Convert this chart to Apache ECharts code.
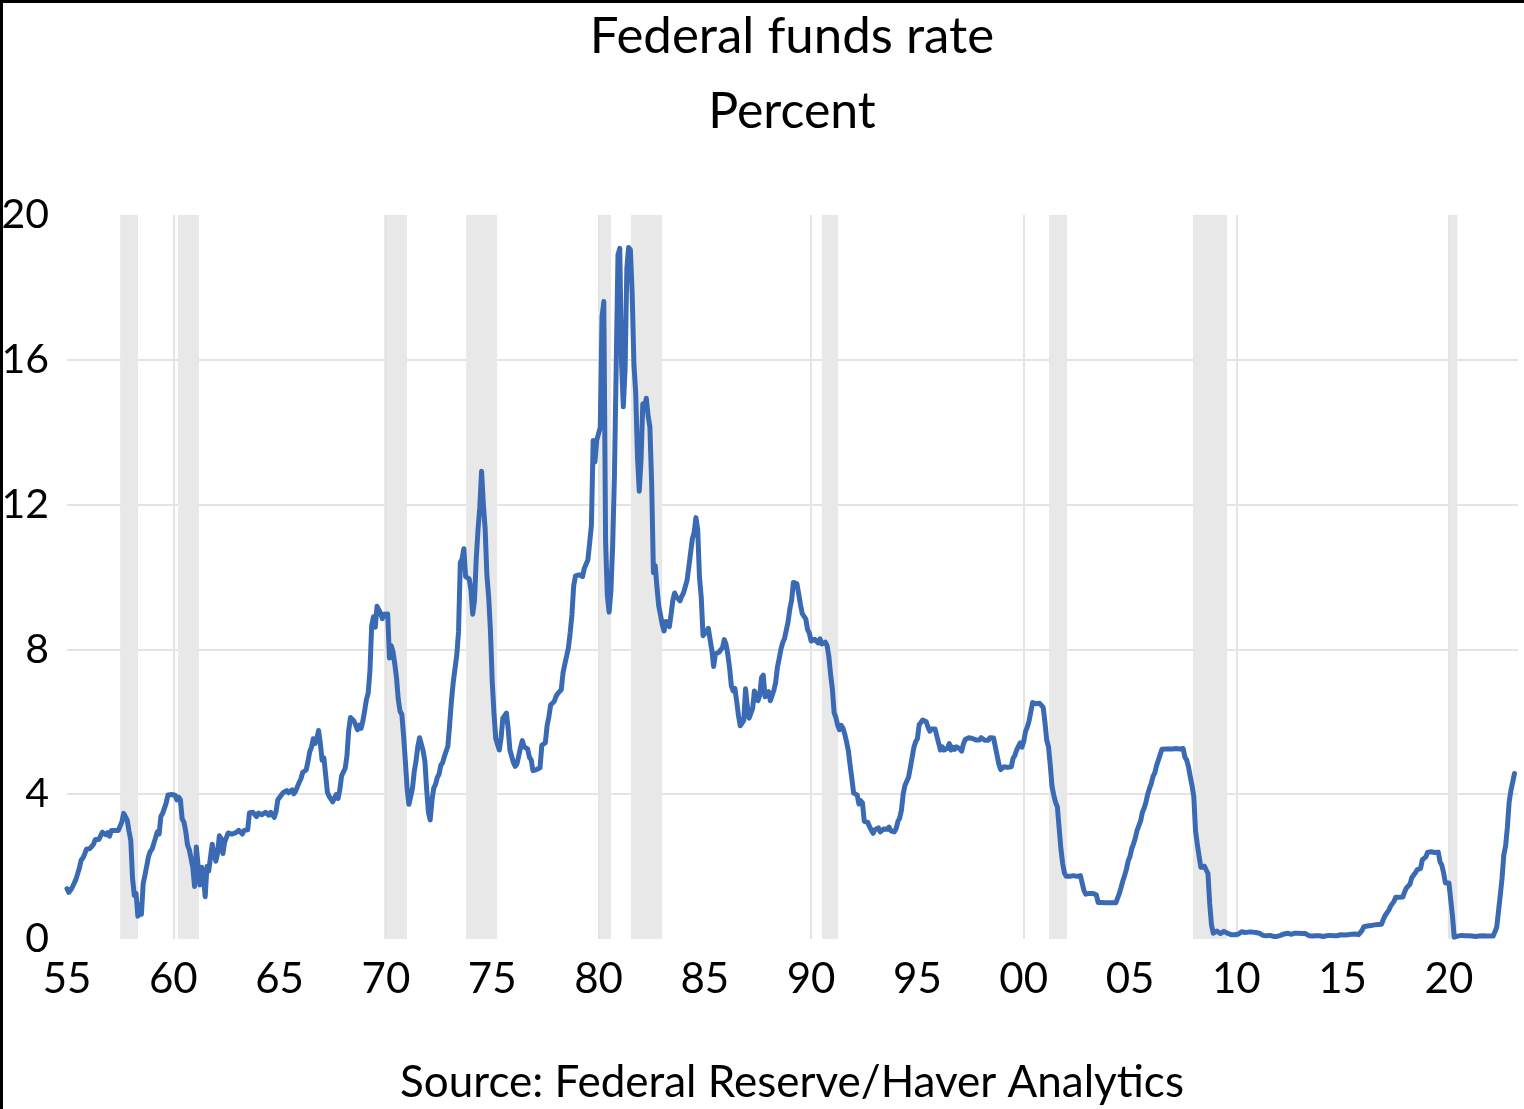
<!DOCTYPE html>
<html>
<head>
<meta charset="utf-8">
<script src="https://cdn.jsdelivr.net/npm/echarts@6/dist/echarts.min.js"></script>
<style>
html,body{margin:0;padding:0;background:#fff;}
#chart{width:1524px;height:1109px;}
</style>
</head>
<body>
<div id="chart"></div>
<script>
// ---- Data ----
const titleText = 'Federal funds rate';
const subtitleText = 'Percent';
const sourceText = 'Source: Federal Reserve/Haver Analytics';
const startYear = 1955; // first monthly observation: Jan 1955
// Monthly effective federal funds rate, percent, Jan 1955 - Feb 2023
const fedFunds = [
 1.39,1.29,1.35,1.43,1.43,1.64,1.68,1.96,2.18,2.24,2.35,2.48,
 2.45,2.50,2.50,2.62,2.75,2.71,2.75,2.73,2.95,2.96,2.88,2.94,
 2.84,3.00,2.96,3.00,3.00,3.00,2.99,3.24,3.47,3.50,3.28,2.98,
 2.72,1.67,1.20,1.26,0.63,0.93,0.68,1.53,1.76,1.80,2.27,2.42,
 2.48,2.43,2.80,2.96,2.90,3.39,3.47,3.50,3.76,3.98,4.00,3.99,
 3.99,3.97,3.84,3.92,3.85,3.32,3.23,2.98,2.60,2.47,2.44,1.98,
 1.45,2.54,2.02,1.49,1.98,1.73,1.17,2.00,1.88,2.26,2.62,2.33,
 2.15,2.37,2.85,2.78,2.36,2.68,2.71,2.93,2.90,2.90,2.94,2.93,
 2.92,3.00,2.98,2.90,3.00,2.99,3.02,3.49,3.48,3.50,3.48,3.38,
 3.48,3.48,3.43,3.47,3.50,3.50,3.42,3.50,3.45,3.36,3.52,3.85,
 3.90,3.98,4.04,4.09,4.10,4.04,4.09,4.12,4.01,4.08,4.10,4.32,
 4.42,4.60,4.65,4.67,4.90,5.17,5.30,5.53,5.40,5.53,5.76,5.40,
 4.94,5.00,4.53,4.05,3.94,3.98,3.79,3.90,3.99,3.88,4.13,4.51,
 4.61,4.71,5.05,5.76,6.12,6.07,6.02,6.03,5.78,5.91,5.82,6.02,
 6.30,6.61,6.79,7.41,8.67,8.90,8.61,9.19,9.15,9.00,8.85,8.97,
 8.98,8.98,7.76,8.10,7.94,7.60,7.21,6.61,6.29,6.20,5.60,4.90,
 4.14,3.72,3.71,4.16,4.63,4.91,5.31,5.56,5.55,5.20,4.91,4.14,
 3.50,3.29,3.83,4.17,4.27,4.46,4.55,4.80,4.87,5.04,5.06,5.33,
 5.94,6.58,7.09,7.12,7.84,8.49,10.40,10.50,10.78,10.01,10.03,9.95,
 9.65,8.97,9.35,10.51,11.31,11.93,12.92,12.01,11.34,10.06,9.45,8.53,
 7.13,6.24,5.54,5.49,5.22,5.55,6.10,6.14,6.24,5.82,5.22,5.20,
 4.87,4.77,4.84,4.82,5.29,5.48,5.31,5.29,5.25,5.02,4.95,4.65,
 4.61,4.68,4.69,4.73,5.35,5.39,5.42,5.90,6.14,6.47,6.51,6.56,
 6.70,6.78,6.79,6.89,7.36,7.60,7.81,8.04,8.45,8.96,9.76,10.03,
 10.07,10.06,10.09,10.01,10.24,10.29,10.47,10.94,11.43,13.77,13.18,13.78,
 13.82,14.13,17.19,17.61,10.98,9.47,9.03,9.61,10.87,12.81,15.85,18.90,
 19.08,15.93,14.70,15.72,18.52,19.10,19.04,17.82,15.87,15.08,13.31,12.37,
 13.22,14.78,14.68,14.94,14.45,14.15,12.59,10.12,10.31,9.71,9.20,8.95,
 8.68,8.51,8.77,8.80,8.63,8.98,9.37,9.56,9.45,9.48,9.34,9.47,
 9.56,9.59,9.91,10.29,10.32,11.06,11.23,11.64,11.30,9.99,9.43,8.38,
 8.35,8.50,8.58,8.27,7.97,7.53,7.88,7.90,7.92,7.99,8.05,8.27,
 8.14,7.86,7.48,6.99,6.85,6.92,6.56,6.17,5.89,5.85,6.04,6.91,
 6.43,6.10,6.13,6.37,6.85,6.73,6.58,6.73,7.22,7.29,6.69,6.77,
 6.83,6.58,6.58,6.87,7.09,7.51,7.75,8.01,8.19,8.30,8.35,8.76,
 9.12,9.36,9.85,9.84,9.81,9.53,9.24,8.99,9.02,8.84,8.55,8.45,
 8.23,8.24,8.28,8.26,8.18,8.29,8.15,8.13,8.20,8.11,7.81,7.31,
 6.91,6.25,6.12,5.91,5.78,5.90,5.82,5.66,5.45,5.21,4.81,4.43,
 4.03,4.06,3.98,3.73,3.82,3.76,3.25,3.30,3.22,3.10,3.09,2.92,
 3.02,3.03,3.07,2.96,3.00,3.04,3.06,3.03,3.09,2.99,3.02,2.96,
 3.05,3.25,3.34,3.56,4.01,4.25,4.26,4.47,4.73,4.76,5.29,5.45,
 5.53,5.92,5.98,6.05,6.01,6.00,5.85,5.74,5.80,5.76,5.80,5.60,
 5.56,5.22,5.31,5.22,5.24,5.27,5.40,5.22,5.30,5.24,5.31,5.29,
 5.25,5.19,5.39,5.51,5.50,5.56,5.52,5.54,5.54,5.50,5.52,5.50,
 5.56,5.51,5.49,5.45,5.49,5.56,5.54,5.55,5.51,5.07,4.83,4.68,
 4.63,4.76,4.81,4.74,4.74,4.76,4.99,5.07,5.22,5.20,5.42,5.30,
 5.45,5.73,5.85,6.02,6.27,6.53,6.54,6.50,6.52,6.51,6.51,6.40,
 5.98,5.49,5.31,4.80,4.21,3.97,3.77,3.65,3.07,2.49,2.09,1.82,
 1.73,1.74,1.73,1.75,1.75,1.75,1.73,1.74,1.75,1.75,1.34,1.24,
 1.24,1.26,1.25,1.26,1.26,1.22,1.01,1.03,1.01,1.01,1.00,0.98,
 1.00,1.01,1.00,1.00,1.00,1.03,1.26,1.43,1.61,1.76,1.93,2.16,
 2.28,2.50,2.63,2.79,3.00,3.04,3.26,3.50,3.62,3.78,4.00,4.16,
 4.29,4.49,4.59,4.79,4.94,4.99,5.24,5.25,5.25,5.25,5.25,5.24,
 5.25,5.26,5.26,5.25,5.25,5.25,5.26,5.02,4.94,4.76,4.49,4.24,
 3.94,2.98,2.61,2.28,1.98,2.00,2.01,2.00,1.81,0.97,0.39,0.16,
 0.15,0.22,0.18,0.15,0.18,0.21,0.16,0.16,0.15,0.12,0.12,0.12,
 0.11,0.13,0.16,0.20,0.20,0.18,0.18,0.19,0.19,0.19,0.19,0.18,
 0.17,0.16,0.14,0.10,0.09,0.09,0.07,0.10,0.08,0.07,0.08,0.07,
 0.08,0.10,0.13,0.14,0.16,0.16,0.16,0.13,0.14,0.16,0.16,0.16,
 0.14,0.15,0.14,0.15,0.11,0.09,0.09,0.08,0.08,0.09,0.08,0.09,
 0.07,0.07,0.08,0.09,0.09,0.10,0.09,0.09,0.09,0.09,0.09,0.12,
 0.11,0.11,0.11,0.12,0.12,0.13,0.13,0.14,0.14,0.12,0.12,0.24,
 0.34,0.38,0.36,0.37,0.37,0.38,0.39,0.40,0.40,0.40,0.41,0.54,
 0.65,0.66,0.79,0.90,0.91,1.04,1.15,1.16,1.15,1.15,1.16,1.30,
 1.41,1.42,1.51,1.69,1.70,1.82,1.91,1.91,1.95,2.19,2.20,2.27,
 2.40,2.40,2.41,2.42,2.39,2.38,2.40,2.13,2.04,1.83,1.55,1.55,
 1.55,1.58,0.65,0.05,0.05,0.08,0.09,0.10,0.09,0.09,0.09,0.09,
 0.09,0.08,0.07,0.07,0.06,0.08,0.10,0.09,0.08,0.08,0.08,0.08,
 0.08,0.08,0.20,0.33,0.77,1.21,1.68,2.33,2.56,3.08,3.78,4.10,
 4.33,4.57
];
// Recession shading, [start, end] in decimal years
const recessions = [
 [1957.5,1958.34],[1960.22,1961.21],[1969.91,1970.99],[1973.77,1975.23],
 [1979.98,1980.59],[1981.53,1982.99],[1990.51,1991.27],[2001.19,2002.04],
 [2007.96,2009.56],[2020.02,2020.40]
];
const decadeLines = [1960,1970,1980,1990,2000,2010,2020];
const yTicks = [0,4,8,12,16,20];
const xTickYears = [1955,1960,1965,1970,1975,1980,1985,1990,1995,2000,2005,2010,2015,2020];

// ---- Chart ----
const FONT = 'Lato';
const chart = echarts.init(document.getElementById('chart'), null, {renderer:'canvas'});
const seriesData = fedFunds.map((v,i)=>[startYear + i/12, v]);

const option = {
  backgroundColor:'#ffffff',
  animation:false,
  grid:{left:67, right:6, top:215, bottom:170, containLabel:false, outerBoundsMode:'none'},
  xAxis:{
    type:'value', min:1955, max:2023.25, interval:5,
    axisLine:{show:false}, axisTick:{show:false}, splitLine:{show:false},
    axisLabel:{
      show:true, color:'#000', fontFamily:FONT, fontSize:42, margin:19,
      showMaxLabel:false, hideOverlap:false,
      formatter:(v)=> xTickYears.indexOf(Math.round(v))>=0 && Math.abs(v-Math.round(v))<1e-6 ? String(Math.round(v)%100).padStart(2,'0') : ''
    }
  },
  yAxis:{
    type:'value', min:yTicks[0], max:yTicks[yTicks.length-1], interval:4,
    axisLine:{show:false}, axisTick:{show:false},
    splitLine:{show:true, showMinLine:false, showMaxLine:false, lineStyle:{color:'#e4e4e4', width:2}},
    axisLabel:{color:'#000', fontFamily:FONT, fontSize:41, margin:18}
  },
  series:[
    {
      name:'bg', type:'line', data:[], z:1, silent:true,
      markArea:{
        silent:true,
        itemStyle:{color:'#e8e8e8'},
        data: recessions.map(r=>[{xAxis:r[0], yAxis:0},{xAxis:r[1], yAxis:20}])
      },
      markLine:{
        silent:true, symbol:['none','none'], label:{show:false},
        lineStyle:{color:'#e4e4e4', width:2, type:'solid'},
        data: decadeLines.map(d=>({xAxis:d}))
      }
    },
    {
      name:'Federal funds rate', type:'line', data:seriesData, z:5,
      showSymbol:false, symbol:'none', smooth:false,
      lineStyle:{color:'#3a6ab3', width:5, join:'round', cap:'round'}
    }
  ],
  graphic:[
    {type:'rect', shape:{x:0,y:0,width:3,height:1109}, style:{fill:'#000'}, z:100},
    {type:'rect', shape:{x:0,y:0,width:1524,height:3}, style:{fill:'#000'}, z:100},
    {type:'text', x:792, y:37, style:{text:titleText, fontFamily:FONT, fontSize:51, fill:'#000', textAlign:'center', textVerticalAlign:'middle'}},
    {type:'text', x:792, y:112, style:{text:subtitleText, fontFamily:FONT, fontSize:50, fill:'#000', textAlign:'center', textVerticalAlign:'middle'}},
    {type:'text', x:792, y:1083, style:{text:sourceText, fontFamily:FONT, fontSize:44, fill:'#000', textAlign:'center', textVerticalAlign:'middle'}}
  ]
};
chart.setOption(option);
</script>
</body>
</html>
